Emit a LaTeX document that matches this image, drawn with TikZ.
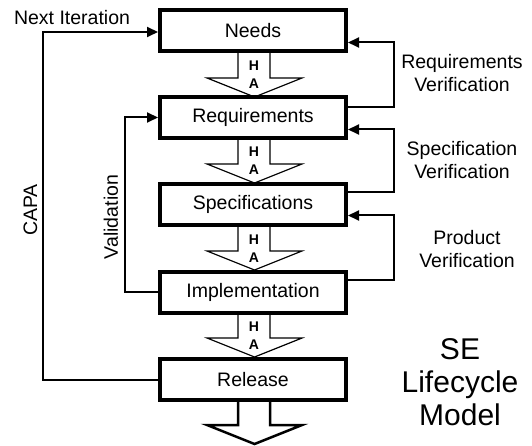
\documentclass[tikz,border=0pt]{standalone}
\usepackage{fontspec}
\setmainfont{Liberation Sans}
\usetikzlibrary{arrows.meta,calc}

\begin{document}
\begin{tikzpicture}[x=1pt,y=-1pt,
  stage/.style={draw,line width=4pt,fill=white,minimum width=186pt,minimum height=41pt,
    inner sep=0pt,font=\fontsize{19.5}{22}\selectfont},
  link/.style={line width=2pt,-{Triangle[length=11pt,width=10pt]}},
  label/.style={font=\fontsize{19.5}{22.5}\selectfont,align=center,inner sep=0pt},
  hollow/.style={draw,line width=1.2pt,fill=white,line join=miter},
  ha/.style={font=\bfseries\fontsize{14}{14}\selectfont,inner sep=0pt}
]
\useasboundingbox (0,0) rectangle (532,446);

% hollow "HA" flow arrows between the stages
\foreach \top/\tip in {53/97,139/183,227/270,314/357}{
  \draw[hollow] (238,\top) -- (238,\tip-19) -- (207,\tip-19) -- (254.5,\tip)
     -- (302,\tip-19) -- (270,\tip-19) -- (270,\top);
  \node[ha] at (254,\top+13) {H};
  \node[ha] at (254,\top+31) {A};
}
% outlet arrow below Release
\draw[hollow,line width=2.5pt] (238,401) -- (238,425) -- (207,425) -- (254.5,444)
     -- (302,425) -- (270,425) -- (270,401);

% lifecycle stages
\node[stage] (needs) at (253,30.5) {Needs};
\node[stage] (req)   at (253,117.5) {Requirements};
\node[stage] (spec)  at (253,204.5) {Specifications};
\node[stage] (impl)  at (253,292) {Implementation};
\node[stage] (rel)   at (253,379.5) {Release};

% entry and exit points of the loops
\coordinate (needsin) at ([yshift=-12pt]needs.east);
\coordinate (reqin)   at ([yshift=-12pt]req.east);
\coordinate (specin)  at ([yshift=-11pt]spec.east);
\coordinate (reqout)  at ([yshift=10pt]req.east);
\coordinate (specout) at ([yshift=12pt]spec.east);
\coordinate (implout) at ([yshift=12pt]impl.east);
\coordinate (needsl)  at ([yshift=-1.5pt]needs.west);
\coordinate (rx) at (394,0);
\coordinate (vx) at (125,0);
\coordinate (cx) at (43,0);

% verification loops on the right
\draw[link] (reqout)  -| (rx |- needsin) -- (needsin);
\draw[link] (specout) -| (rx |- reqin)   -- (reqin);
\draw[link] (implout) -| (rx |- specin)  -- (specin);

% validation and CAPA loops on the left
\draw[link] (impl.west) -| (vx |- req.west) -- (req.west);
\draw[link] (rel.west)  -| (cx |- needsl)   -- (needsl);

% labels
\node[label] (nextlbl) at (72,18) {Next Iteration};
\node[label,rotate=90] (capalbl) at (30.5,210) {CAPA};
\node[label,rotate=90] (vallbl) at (111,217) {Validation};
\node[label] (rvlbl) at (462,73) {Requirements\\Verification};
\node[label] (svlbl) at (462,160) {Specification\\Verification};
\node[label] (pvlbl) at (467,249) {Product\\Verification};
\node[label,font=\fontsize{30}{33}\selectfont] (title) at (460,382) {SE\\Lifecycle\\Model};
\end{tikzpicture}
\end{document}
